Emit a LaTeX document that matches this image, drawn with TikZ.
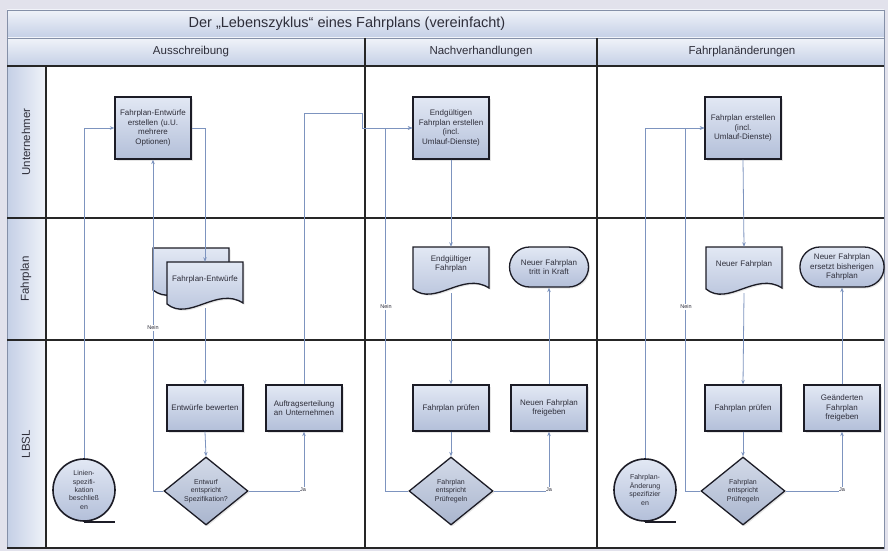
\documentclass[tikz,border=0pt]{standalone}
\usepackage{fontspec}
\setmainfont{Liberation Sans}
\usetikzlibrary{shapes.geometric,shapes.misc,arrows.meta,shadows,calc}
\hyphenpenalty=10000
\exhyphenpenalty=10000
\definecolor{bgc}{HTML}{E2E2EC}
\definecolor{bandtop}{HTML}{F0F3F9}
\definecolor{bandbot}{HTML}{C4CFE6}
\definecolor{nodetop}{HTML}{E2E8F4}
\definecolor{nodebot}{HTML}{B3BFD9}
\definecolor{diatop}{HTML}{D3DAE8}
\definecolor{diabot}{HTML}{A9B5CE}
\definecolor{edgec}{HTML}{1C1C26}
\definecolor{linkc}{HTML}{7D94BF}
\definecolor{lanec}{HTML}{262626}
\definecolor{txtc}{HTML}{2E2E3A}
\definecolor{framec}{HTML}{8590A8}
\newcommand\docnode[4]{%
  \path[draw=edgec, line width=1.3pt, top color=nodetop, bottom color=nodebot,
        drop shadow={opacity=0.2,shadow xshift=1.5pt,shadow yshift=-1.5pt}]
    (#2-38,#3-23) -- (#2+38,#3-23) -- (#2+38,#3+18)
    .. controls (#2+12,#3+1) and (#2-16,#3+37) .. (#2-38,#3+19) -- cycle;
  \node[docbox] (#1) at (#2,#3) {};
  \node[doclabel] (#1-t) at (#2,#3-6) {#4};
}
\begin{document}
\begin{tikzpicture}[x=1pt,y=-1pt,
  nodetext/.style={text=txtc, font=\fontsize{8}{9.6}\selectfont, align=center},
  procbox/.style={nodetext, rectangle, draw=edgec, line width=1.3pt, top color=nodetop, bottom color=nodebot,
     minimum width=76pt, text width=74pt, inner sep=1pt,
     drop shadow={opacity=0.2,shadow xshift=1.5pt,shadow yshift=-1.5pt}},
  docbox/.style={rectangle, draw=none, minimum width=76pt, minimum height=46pt, inner sep=0pt},
  doclabel/.style={nodetext, text width=74pt, inner sep=0pt},
  termbox/.style={nodetext, rounded rectangle, draw=edgec, line width=1.3pt, top color=nodetop, bottom color=nodebot,
     minimum width=79pt, minimum height=40pt, text width=74pt, inner sep=0pt,
     drop shadow={opacity=0.2,shadow xshift=1.5pt,shadow yshift=-1.5pt}},
  decbox/.style={nodetext, font=\fontsize{7}{8.4}\selectfont, diamond, aspect=1.24, draw=edgec, line width=1.3pt,
     top color=diatop, bottom color=diabot, minimum width=84pt, minimum height=68pt, inner sep=0pt,
     drop shadow={opacity=0.2,shadow xshift=1.5pt,shadow yshift=-1.5pt}},
  tapebox/.style={nodetext, font=\fontsize{7}{8.4}\selectfont, circle, draw=edgec, line width=1.6pt,
     top color=nodetop, bottom color=nodebot, minimum size=62pt, text width=46pt, inner sep=0pt},
  tail/.style={draw=edgec, line width=1.6pt},
  link/.style={draw=linkc, line width=0.8pt, -{Stealth[length=4.5pt,width=3.5pt]}},
  lbl/.style={text=txtc, font=\fontsize{5.5}{6}\selectfont, fill=white, inner sep=0.6pt},
  lanetext/.style={text=txtc, font=\fontsize{11.5}{13}\selectfont},
]
% ---------- background and swimlanes
\fill[bgc] (0,0) rectangle (888,551);
\fill[white] (7,66) rectangle (884,548);
\shade[top color=bandtop, bottom color=bandbot] (7,10) rectangle (884,38);
\shade[top color=bandtop, bottom color=bandbot] (7,38) rectangle (884,66);
\shade[left color=bandbot, right color=bandtop] (7,66) rectangle (46,548);
\draw[framec, line width=0.8pt] (7,10) rectangle (884,548);
\draw[framec, line width=0.8pt] (7,38) -- (884,38);
\draw[lanec, line width=2pt] (7,66) -- (884,66);
\draw[lanec, line width=2pt] (7,218) -- (884,218);
\draw[lanec, line width=2pt] (7,340) -- (884,340);
\draw[lanec, line width=2pt] (7,548) -- (884,548);
\draw[lanec, line width=2pt] (46,66) -- (46,548);
\draw[lanec, line width=1.3pt] (365,38) -- (365,548);
\draw[lanec, line width=1.3pt] (597,38) -- (597,548);
\node[text=txtc, font=\fontsize{14.5}{16}\selectfont] (title) at (347,24) {Der „Lebenszyklus“ eines Fahrplans (vereinfacht)};
\node[lanetext] (h1) at (191,52) {Ausschreibung};
\node[lanetext] (h2) at (481,52) {Nachverhandlungen};
\node[lanetext] (h3) at (742,52) {Fahrplanänderungen};
\node[lanetext, rotate=90] (r1) at (26,142) {Unternehmer};
\node[lanetext, rotate=90] (r2) at (26,279) {Fahrplan};
\node[lanetext, rotate=90] (r3) at (26,444) {LBSL};
% ---------- column 1: Ausschreibung
\node[procbox, minimum height=62pt] (b1) at (153,128) {Fahrplan-Entwürfe\\erstellen (u.U.\\mehrere\\Optionen)};
\docnode{dback}{191}{271}{}
\docnode{dfront}{205}{285}{Fahrplan-Entwürfe}
\node[procbox, minimum height=46pt] (eb) at (205,408) {Entwürfe bewerten};
\node[procbox, minimum height=46pt] (a2) at (304,408) {Auftragserteilung\\an Unternehmen};
\node[decbox] (dm1) at (206,491) {Entwurf\\entspricht\\Spezifikation?};
\node[tapebox] (c1) at (84,490) {Linien-\\spezifi-\\kation\\beschließ\\en};
\draw[tail] (c1.south) -- ++(31,0);
% ---------- column 2: Nachverhandlungen
\node[procbox, minimum height=62pt] (e2) at (451,128) {Endgültigen\\Fahrplan erstellen\\(incl.\\Umlauf-Dienste)};
\docnode{d2}{451}{270}{Endgültiger\\Fahrplan}
\node[termbox] (t2) at (549,267) {Neuer Fahrplan\\tritt in Kraft};
\node[procbox, minimum height=46pt] (p2) at (451,408) {Fahrplan prüfen};
\node[procbox, minimum height=46pt] (f2) at (549,408) {Neuen Fahrplan\\freigeben};
\node[decbox] (dm2) at (451,491) {Fahrplan\\entspricht\\Prüfregeln};
% ---------- column 3: Fahrplanänderungen
\node[procbox, minimum height=62pt] (e3) at (743,128) {Fahrplan erstellen\\(incl.\\Umlauf-Dienste)};
\docnode{d3}{744}{270}{Neuer Fahrplan}
\node[termbox] (t3) at (842,267) {Neuer Fahrplan\\ersetzt bisherigen\\Fahrplan};
\node[procbox, minimum height=46pt] (p3) at (743,408) {Fahrplan prüfen};
\node[procbox, minimum height=46pt] (f3) at (842,408) {Geänderten\\Fahrplan\\freigeben};
\node[decbox] (dm3) at (743,491) {Fahrplan\\entspricht\\Prüfregeln};
\node[tapebox] (c2) at (645,490) {Fahrplan-\\Änderung\\spezifizier\\en};
\draw[tail] (c2.south) -- ++(31,0);
% ---------- connectors column 1
\draw[link] (c1.north) |- (b1.west);
\draw[link] (b1.east) -| (dfront.north);
\draw[link] (dfront.south) -- (eb.north);
\draw[link] (eb.south) -- (dm1.north);
\draw[link] (dm1.west) -| (b1.south);
\draw[link] (dm1.east) -| (a2.south);
\coordinate (j1) at (304,113);
\coordinate (j2) at (362,113);
\coordinate (j3) at (362,128);
\draw[link] (a2.north) -- (j1) -- (j2) -- (j3) -- (e2.west);
\node[lbl] (n1) at (153,328) {Nein};
\node[lbl] (y1) at (303,490) {Ja};
% ---------- connectors column 2
\draw[link] (dm2.west) -- ++(-23,0) |- (e2.west);
\draw[link] (e2.south) -- (d2.north);
\draw[link] (d2.south) -- (p2.north);
\draw[link] (p2.south) -- (dm2.north);
\draw[link] (dm2.east) -| (f2.south);
\draw[link] (f2.north) -- (t2.south);
\node[lbl] (n2) at (386,307) {Nein};
\node[lbl] (y2) at (549,490) {Ja};
% ---------- connectors column 3
\draw[link] (c2.north) |- (e3.west);
\draw[link] (dm3.west) -- ++(-15,0) |- (e3.west);
\draw[link] (e3.south) -- (d3.north);
\draw[link] (d3.south) -- (p3.north);
\draw[link] (p3.south) -- (dm3.north);
\draw[link] (dm3.east) -| (f3.south);
\draw[link] (f3.north) -- (t3.south);
\node[lbl] (n3) at (686,307) {Nein};
\node[lbl] (y3) at (842,490) {Ja};
\end{tikzpicture}
\end{document}
